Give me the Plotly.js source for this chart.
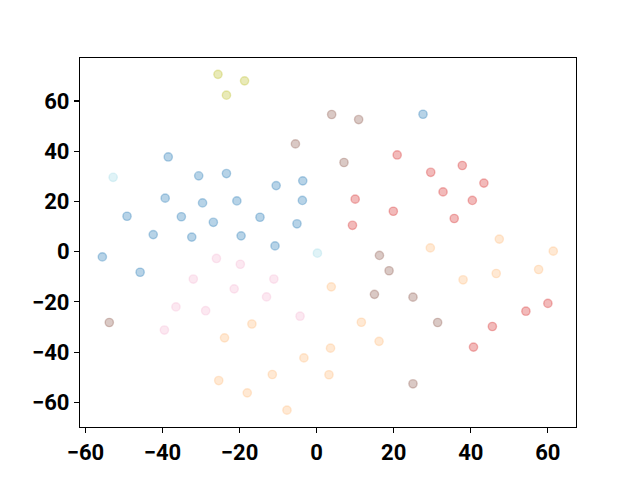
<!DOCTYPE html>
<html>
<head>
<meta charset="utf-8">
<script src="https://cdn.plot.ly/plotly-3.0.1.min.js"></script>
<style>html,body{margin:0;padding:0;background:#fff;}#chart{width:640px;height:480px;}</style>
</head>
<body>
<div id="chart"></div>
<script>
// Cluster data (t-SNE style 2D embedding), grouped by cluster label
const blueX = [-38.5,-30.6,-23.4,-10.5,-3.6,-3.7,-39.3,-29.6,-20.7,-49.2,-35.1,-26.8,-14.7,-5.1,-42.4,-32.4,-19.6,-10.8,-55.6,-45.8,27.6];
const blueY = [37.7,30.2,31.1,26.3,28.2,20.4,21.3,19.4,20.2,14.1,13.9,11.7,13.7,11.1,6.8,5.8,6.3,2.3,-2.1,-8.2,54.7];

const orangeX = [-16.8,-23.9,-3.3,-11.5,-25.4,-18.0,-7.7,47.4,29.5,61.4,38.0,46.6,57.6,3.8,11.6,16.2,3.6,3.2];
const orangeY = [-28.8,-34.3,-42.3,-48.9,-51.3,-56.2,-63.1,5.0,1.5,0.2,-11.2,-8.7,-7.1,-14.0,-28.1,-35.7,-38.4,-49.0];

const redX = [20.9,29.6,37.8,43.4,32.8,40.4,10.0,19.9,35.7,9.3,60.0,54.3,45.6,40.7];
const redY = [38.5,31.6,34.3,27.3,23.8,20.4,20.9,16.1,13.2,10.5,-20.6,-23.7,-29.8,-38.0];

const brownX = [-5.5,3.9,10.9,7.1,16.3,18.8,15.0,25.0,31.4,25.0,-53.8];
const brownY = [42.9,54.6,52.6,35.5,-1.5,-7.6,-17.0,-18.1,-28.2,-52.6,-28.2];

const pinkX = [-26.0,-19.8,-32.0,-11.1,-21.4,-13.0,-36.5,-28.8,-4.3,-39.5];
const pinkY = [-2.7,-5.0,-10.9,-10.9,-14.8,-18.0,-22.0,-23.5,-25.7,-31.2];

const oliveX = [-25.6,-18.7,-23.4];
const oliveY = [70.6,68.0,62.3];

const cyanX = [-52.8,0.2];
const cyanY = [29.6,-0.6];

const tickVals = [-60,-40,-20,0,20,40,60];

const ALPHA = 0.32;
function rgba(hex, a){
  const r = parseInt(hex.slice(1,3),16), g = parseInt(hex.slice(3,5),16), b = parseInt(hex.slice(5,7),16);
  return `rgba(${r},${g},${b},${a})`;
}
function trace(x, y, hex){
  return {
    x: x, y: y, type: 'scatter', mode: 'markers', hoverinfo: 'skip',
    marker: {size: 8.3, color: rgba(hex, ALPHA), line: {color: rgba(hex, ALPHA), width: 1.4}}
  };
}
const data = [
  trace(blueX, blueY, '#1f77b4'),
  trace(orangeX, orangeY, '#ffbb78'),
  trace(redX, redY, '#d62728'),
  trace(brownX, brownY, '#8c564b'),
  trace(pinkX, pinkY, '#f7b6d2'),
  trace(oliveX, oliveY, '#bcbd22'),
  trace(cyanX, cyanY, '#9edae5')
];

const axisCommon = {
  showgrid: false, zeroline: false, showline: true, mirror: true,
  linecolor: '#000', linewidth: 1.1,
  ticks: 'outside', ticklen: 5, tickwidth: 1.1, tickcolor: '#000',
  tickvals: tickVals,
  tickfont: {family: 'Roboto, sans-serif', size: 22, color: '#000', weight: 'bold'}
};

const layout = {
  width: 640, height: 480,
  margin: {l: 80, r: 64, t: 58, b: 53},
  paper_bgcolor: '#fff', plot_bgcolor: '#fff',
  showlegend: false,
  xaxis: Object.assign({}, axisCommon, {range: [-61.4, 67.3]}),
  yaxis: Object.assign({}, axisCommon, {range: [-69.8, 77.1]})
};

Plotly.newPlot('chart', data, layout, {displayModeBar: false, staticPlot: true});
</script>
</body>
</html>
